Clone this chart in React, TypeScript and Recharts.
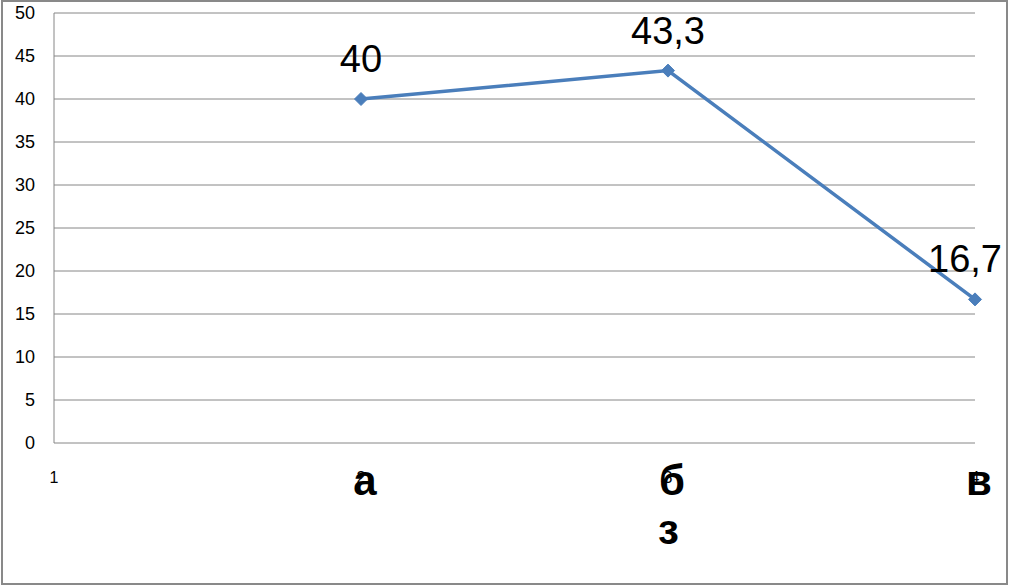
import { LineChart, Line, XAxis, YAxis, CartesianGrid, LabelList, Label } from "recharts";

const xTicks = [1, 2, 3, 4];
const categories = ["а", "б", "в"];
const xPositions = [2, 3, 4];
const values = [40, 43.3, 16.7];
const yTicks = [0, 5, 10, 15, 20, 25, 30, 35, 40, 45, 50];
const axisTitle = "з";

const data = xPositions.map((x, i) => ({ x, value: values[i], cat: categories[i] }));

const W = 1009;
const H = 585;
const LINE = "#4a7ebb";
const GRID = "#868686";
const FONT = "'Liberation Sans', Arial, sans-serif";

function XTick(props: any) {
  const { x, y, payload } = props;
  const idx = xPositions.indexOf(payload.value);
  return (
    <g>
      {idx >= 0 && (
        <text
          x={x + 4}
          y={y + 52}
          textAnchor="middle"
          fontSize={42}
          fontWeight={700}
          fontFamily={FONT}
          fill="#000"
        >
          {categories[idx]}
        </text>
      )}
      <text x={x} y={y + 40} textAnchor="middle" fontSize={16} fontFamily={FONT} fill="#000">
        {payload.value}
      </text>
    </g>
  );
}

function Diamond(props: any) {
  const { cx, cy } = props;
  if (cx == null || cy == null) return null;
  const r = 6.5;
  return <path d={`M${cx},${cy - r}L${cx + r},${cy}L${cx},${cy + r}L${cx - r},${cy}Z`} fill={LINE} stroke={LINE} />;
}

function ValueLabel(props: any) {
  const { x, y, value } = props;
  const text = String(value).replace(".", ",");
  // keep the label inside the frame, like Excel does
  const half = (text.length * 0.5 * 38) / 2;
  const shift = Math.min(0, W - 6 - (x + half));
  return (
    <text x={x + shift} y={y - 27} textAnchor="middle" fontSize={38} fontFamily={FONT} fill="#000">
      {text}
    </text>
  );
}

export default function App() {
  return (
    <div style={{ position: "absolute", left: 0, top: 0, width: W, height: H, background: "#fff" }}>
      <LineChart width={W} height={H} data={data} margin={{ top: 13, right: 34, bottom: 0, left: 0 }}>
        <CartesianGrid horizontal vertical={false} stroke={GRID} strokeWidth={1} />
        <XAxis
          dataKey="x"
          type="number"
          domain={[1, 4]}
          ticks={xTicks}
          axisLine={false}
          tickLine={false}
          tickSize={0}
          tickMargin={0}
          height={142}
          tick={<XTick />}
          interval={0}
        >
          <Label
            value={axisTitle}
            position="insideBottom"
            offset={41}
            dx={154}
            style={{ fontSize: 42, fontWeight: 700, fontFamily: FONT, fill: "#000" }}
          />
        </XAxis>
        <YAxis
          type="number"
          domain={[0, 50]}
          ticks={yTicks}
          width={54}
          axisLine={{ stroke: GRID }}
          tickLine={false}
          tickSize={0}
          tickMargin={19}
          tick={{ fontSize: 18, fontFamily: FONT, fill: "#000" }}
          interval={0}
        />
        <Line
          dataKey="value"
          stroke={LINE}
          strokeWidth={3.5}
          dot={<Diamond />}
          activeDot={false}
          isAnimationActive={false}
        >
          <LabelList dataKey="value" content={<ValueLabel />} />
        </Line>
      </LineChart>
      <div
        style={{
          position: "absolute",
          left: 1,
          top: 0,
          width: 1007,
          height: H,
          boxSizing: "border-box",
          border: "2px solid #898989",
          pointerEvents: "none",
        }}
      />
    </div>
  );
}
